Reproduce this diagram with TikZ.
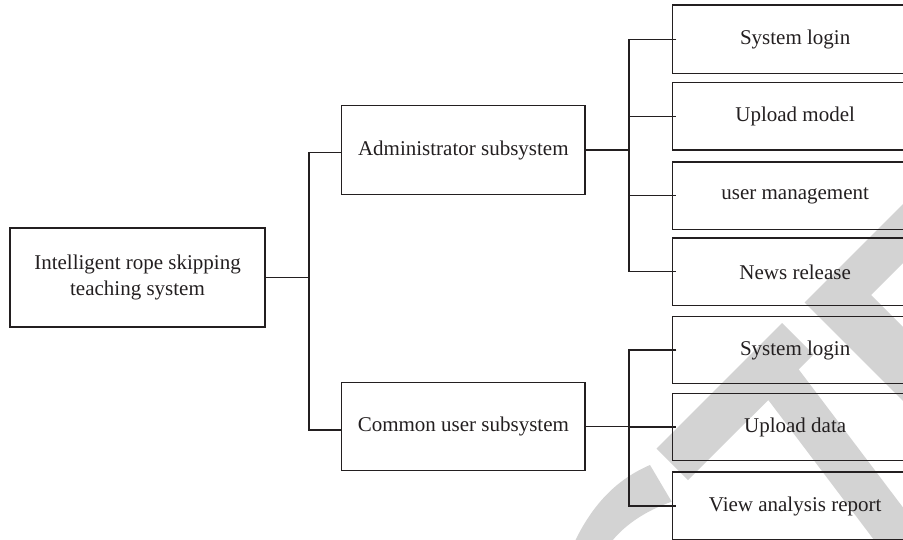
\documentclass[tikz,border=0pt]{standalone}
\usepackage{fontspec}
\setmainfont{Liberation Serif}
\definecolor{ink}{HTML}{231F20}
\definecolor{wmgray}{RGB}{211,211,211}
\begin{document}
\begin{tikzpicture}[x=1pt,y=-1pt,
  box/.style={draw=ink, line width=1.1pt, inner sep=0pt, outer sep=0pt, align=center,
    font=\fontsize{21}{26}\selectfont, text=ink},
  leaf/.style={box, minimum width=245.7pt},
  conn/.style={draw=ink, line width=1.1pt},
  wm/.style={fill=wmgray, draw=none}]
\useasboundingbox (0,0) rectangle (903,539);
\clip (0,0) rectangle (903,539);
% watermark fragments
\fill[wm] (575,541) .. controls (595,500) and (620,478) .. (650,465) -- (671.7,501.7) .. controls (645,511) and (625,525) .. (612,541) -- cycle;
\fill[wm] (656.5,448.5) -- (782,323) -- (813.5,354.5) -- (798.7,369.4) -- (972.9,600) -- (919.4,600) -- (768.3,400) -- (688,480) -- cycle;
\fill[wm] (804.5,302.5) -- (953.5,153.5) -- (983,183) -- (871,295) -- (1088,512) -- (1051,549) -- cycle;
% nodes
\node[box, minimum width=255pt, minimum height=99pt] (root) at (137.5,277.5) {Intelligent rope skipping\\teaching system};
\node[box, minimum width=243.3pt, minimum height=88.6pt] (admin) at (463.35,150) {Administrator subsystem};
\node[box, minimum width=243.3pt, minimum height=88pt] (common) at (463.35,426.7) {Common user subsystem};
\node[leaf, minimum height=68.3pt] (l1) at (795.15,39.15) {System login};
\node[leaf, minimum height=67.3pt] (l2) at (795.15,116.35) {Upload model};
\node[leaf, minimum height=67.3pt] (l3) at (795.15,195.65) {user management};
\node[leaf, minimum height=67.7pt] (l4) at (795.15,271.85) {News release};
\node[leaf, minimum height=66.6pt] (l5) at (795.15,350) {System login};
\node[leaf, minimum height=67.4pt] (l6) at (795.15,427) {Upload data};
\node[leaf, minimum height=68pt] (l7) at (795.15,506) {View analysis report};
% connectors
\coordinate (rj) at (309,277.5);
\draw[conn] (root.east) -- (rj);
\draw[conn] ([yshift=-2.7pt]admin.west) -| (rj) |- ([yshift=-3.3pt]common.west);
\draw[conn] (admin.east) -- ++(44,0) coordinate (aj);
\draw[conn] ([xshift=4pt]l1.west) -| (aj) |- ([xshift=4pt]l4.west);
\draw[conn] (aj |- l2.west) -- ([xshift=4pt]l2.west);
\draw[conn] (aj |- l3.west) -- ([xshift=4pt]l3.west);
\draw[conn] (common.east) -- ++(44,0) coordinate (cj);
\draw[conn] ([xshift=4pt]l5.west) -| (cj) |- ([xshift=4pt]l7.west);
\draw[conn] (cj |- l6.west) -- ([xshift=4pt]l6.west);
\end{tikzpicture}
\end{document}
